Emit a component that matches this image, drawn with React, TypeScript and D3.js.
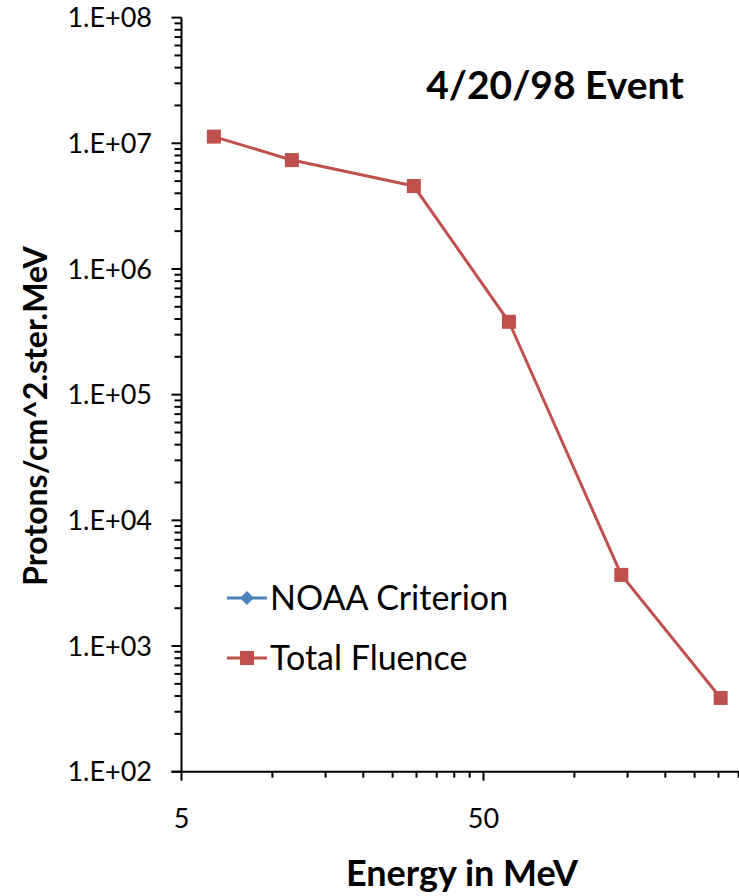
// App.tsx
import React, { useRef, useEffect } from "react";
import * as d3 from "d3";

// energies (MeV) and fluences
const energies = [6.4, 11.6, 29.4, 60.7, 143, 305];
const totalFluence = [1.13e7, 7.35e6, 4.57e6, 3.8e5, 3.68e3, 3.86e2];
const noaaCriterion: number[] = []; // not visible in the picture

const xTickLabels = [5, 50];
const yTickValues = [1e2, 1e3, 1e4, 1e5, 1e6, 1e7, 1e8];

const seriesNames = ["NOAA Criterion", "Total Fluence"];
const seriesColors = ["#4F81BD", "#C0504D"];

const width = 739;
const height = 896;
const font = "Lato, 'Open Sans', sans-serif";

const App: React.FC = () => {
  const ref = useRef<SVGSVGElement | null>(null);

  useEffect(() => {
    if (!ref.current) return;
    const svg = d3.select(ref.current);
    svg.selectAll("*").remove();

    // plot area: 5 MeV sits on the y axis, the right edge runs off the picture
    const x = d3.scaleLog().domain([5, 500]).range([181.5, 785.5]);
    const y = d3.scaleLog().domain([1e2, 1e8]).range([771.7, 17.6]);

    const axisColor = "#000";

    // y axis: line, major and minor ticks
    const gy = svg.append("g");
    gy.append("line")
      .attr("x1", x(5)).attr("x2", x(5))
      .attr("y1", y(1e8)).attr("y2", y(1e2))
      .attr("stroke", axisColor).attr("stroke-width", 2);
    const yMinor: number[] = [];
    for (let e = 2; e < 8; e++) for (let m = 2; m <= 9; m++) yMinor.push(m * Math.pow(10, e));
    gy.selectAll(".ymin").data(yMinor).join("line")
      .attr("x1", x(5) - 7).attr("x2", x(5))
      .attr("y1", (d) => y(d)).attr("y2", (d) => y(d))
      .attr("stroke", axisColor).attr("stroke-width", 2);
    gy.selectAll(".ymaj").data(yTickValues).join("line")
      .attr("x1", x(5) - 10).attr("x2", x(5))
      .attr("y1", (d) => y(d)).attr("y2", (d) => y(d))
      .attr("stroke", axisColor).attr("stroke-width", 2);
    gy.selectAll("text").data(yTickValues).join("text")
      .attr("x", 152)
      .attr("y", (d) => y(d))
      .attr("dy", "0.36em")
      .attr("text-anchor", "end")
      .attr("font-family", font)
      .attr("font-size", 27)
      .attr("fill", "#000")
      .text((d) => "1.E+" + String(Math.round(Math.log10(d))).padStart(2, "0"));

    // x axis
    const gx = svg.append("g");
    gx.append("line")
      .attr("x1", x(5) - 10).attr("x2", width)
      .attr("y1", y(1e2)).attr("y2", y(1e2))
      .attr("stroke", axisColor).attr("stroke-width", 2);
    const xMinor: number[] = [];
    for (let e = 0; e < 2; e++) for (let m = 2; m <= 9; m++) xMinor.push(m * 5 * Math.pow(10, e));
    gx.selectAll(".xmin").data(xMinor).join("line")
      .attr("x1", (d) => x(d)).attr("x2", (d) => x(d))
      .attr("y1", y(1e2)).attr("y2", y(1e2) + 6)
      .attr("stroke", axisColor).attr("stroke-width", 2);
    gx.selectAll(".xmaj").data([5, 50, 500]).join("line")
      .attr("x1", (d) => x(d)).attr("x2", (d) => x(d))
      .attr("y1", y(1e2)).attr("y2", y(1e2) + 9)
      .attr("stroke", axisColor).attr("stroke-width", 2);
    gx.selectAll("text").data(xTickLabels).join("text")
      .attr("x", (d) => x(d))
      .attr("y", 828)
      .attr("text-anchor", "middle")
      .attr("font-family", font)
      .attr("font-size", 27)
      .attr("fill", "#000")
      .text((d) => String(d));

    // axis titles and chart title
    svg.append("text")
      .attr("x", 462).attr("y", 886)
      .attr("text-anchor", "middle")
      .attr("font-family", font).attr("font-weight", "bold").attr("font-size", 36)
      .text("Energy in MeV");
    svg.append("text")
      .attr("transform", "translate(47,416) rotate(-90)")
      .attr("text-anchor", "middle")
      .attr("font-family", font).attr("font-weight", "bold").attr("font-size", 32)
      .text("Protons/cm^2.ster.MeV");
    svg.append("text")
      .attr("x", 555).attr("y", 99)
      .attr("text-anchor", "middle")
      .attr("font-family", font).attr("font-weight", "bold").attr("font-size", 39)
      .text("4/20/98 Event");

    // series
    const line = d3.line<[number, number]>()
      .x((d) => x(d[0]))
      .y((d) => y(d[1]));

    const noaaPts = noaaCriterion.map((v, i) => [energies[i], v] as [number, number]);
    svg.append("path")
      .datum(noaaPts)
      .attr("d", line)
      .attr("fill", "none")
      .attr("stroke", seriesColors[0]).attr("stroke-width", 3);

    const totalPts = totalFluence.map((v, i) => [energies[i], v] as [number, number]);
    svg.append("path")
      .datum(totalPts)
      .attr("d", line)
      .attr("fill", "none")
      .attr("stroke", seriesColors[1]).attr("stroke-width", 3)
      .attr("stroke-linejoin", "round");
    svg.append("g").selectAll("rect").data(totalPts).join("rect")
      .attr("x", (d) => x(d[0]) - 7)
      .attr("y", (d) => y(d[1]) - 7)
      .attr("width", 14).attr("height", 14)
      .attr("fill", seriesColors[1]);

    // legend
    const legend = svg.append("g").attr("transform", "translate(227,598)");
    seriesNames.forEach((name, i) => {
      const g = legend.append("g").attr("transform", `translate(0,${i * 60})`);
      g.append("line")
        .attr("x1", 0).attr("x2", 40).attr("y1", 0).attr("y2", 0)
        .attr("stroke", seriesColors[i]).attr("stroke-width", 3);
      if (i === 0) {
        g.append("path")
          .attr("d", "M20,-7L27,0L20,7L13,0Z")
          .attr("fill", seriesColors[i]);
      } else {
        g.append("rect")
          .attr("x", 13).attr("y", -7).attr("width", 14).attr("height", 14)
          .attr("fill", seriesColors[i]);
      }
      g.append("text")
        .attr("x", 43).attr("y", 0).attr("dy", "0.36em")
        .attr("font-family", font).attr("font-size", 34)
        .attr("fill", "#000")
        .text(name);
    });
  }, []);

  return (
    <svg
      ref={ref}
      width={width}
      height={height}
      style={{ position: "absolute", left: 0, top: 0, background: "#fff" }}
    />
  );
};

export default App;
